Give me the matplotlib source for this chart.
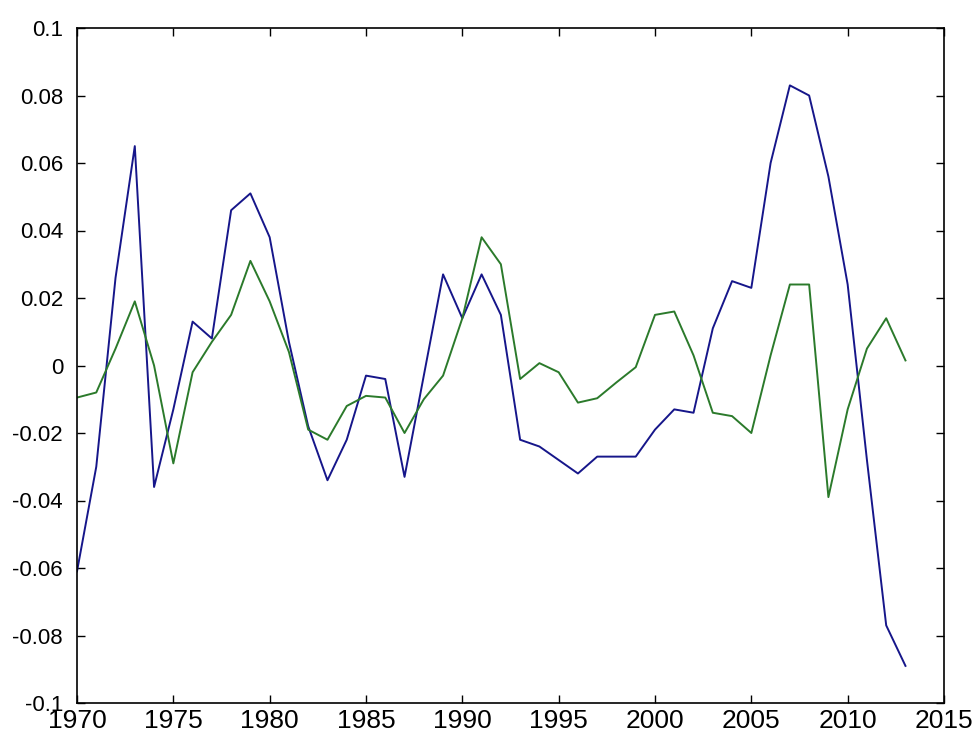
import numpy as np
import matplotlib
matplotlib.use("Agg")
import matplotlib.pyplot as plt
from matplotlib import font_manager

years = list(range(1970, 2014))

series_blue = [-0.061, -0.030, 0.026, 0.065, -0.036, -0.013, 0.013, 0.008, 0.046, 0.051,
               0.038, 0.007, -0.018, -0.034, -0.022, -0.003, -0.004, -0.033, -0.003, 0.027,
               0.014, 0.027, 0.015, -0.022, -0.024, -0.028, -0.032, -0.027, -0.027, -0.027,
               -0.019, -0.013, -0.014, 0.011, 0.025, 0.023, 0.060, 0.083, 0.080, 0.056,
               0.024, -0.028, -0.077, -0.089]

series_green = [-0.0095, -0.008, 0.005, 0.019, 0.000, -0.029, -0.002, 0.007, 0.015, 0.031,
                0.019, 0.004, -0.019, -0.022, -0.012, -0.009, -0.0095, -0.020, -0.010, -0.003,
                0.014, 0.038, 0.030, -0.004, 0.0007, -0.002, -0.011, -0.0097, -0.005, -0.0005,
                0.015, 0.016, 0.003, -0.014, -0.015, -0.020, 0.003, 0.024, 0.024, -0.039,
                -0.013, 0.005, 0.014, 0.0015]

xticks = list(range(1970, 2016, 5))
yticks = [-0.1, -0.08, -0.06, -0.04, -0.02, 0, 0.02, 0.04, 0.06, 0.08, 0.1]
ytick_labels = ["-0.1", "-0.08", "-0.06", "-0.04", "-0.02", "0",
                "0.02", "0.04", "0.06", "0.08", "0.1"]

# narrow font for the squeezed year labels, if there is one
names = {f.name for f in font_manager.fontManager.ttflist}
narrow = "Liberation Sans Narrow" if "Liberation Sans Narrow" in names else "Liberation Sans"

fig = plt.figure(figsize=(9.72, 7.36), dpi=100)
ax = fig.add_axes([77/972, 1 - 703/736, 867/972, 675/736])

ax.plot(years, series_blue, color="#16168a", lw=1.4)
ax.plot(years, series_green, color="#2b7a2b", lw=1.4)

ax.set_xlim(1970, 2015)
ax.set_ylim(-0.1, 0.1)
ax.set_xticks(xticks)
ax.set_xticklabels([str(x) for x in xticks], family=narrow, fontsize=19)
ax.set_yticks(yticks)
ax.set_yticklabels(ytick_labels, family="Liberation Sans", fontsize=16)

ax.tick_params(direction="in", length=6, width=1.0, top=True, right=True,
               colors="black")
ax.tick_params(axis="y", pad=10)
ax.tick_params(axis="x", pad=4)
for s in ax.spines.values():
    s.set_linewidth(1.2)

fig.savefig("out.png", dpi=100)
